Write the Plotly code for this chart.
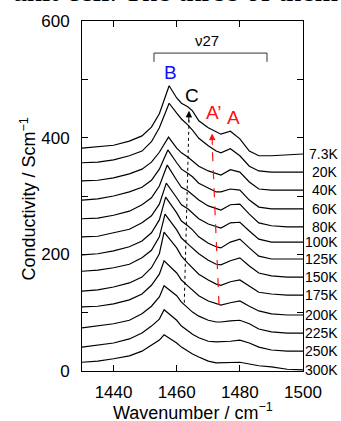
import plotly.graph_objects as go

temps = ["7.3K", "20K", "40K", "60K", "80K", "100K", "125K", "150K", "175K", "200K", "225K", "250K", "300K"]

# wavenumber grid (peak position inserted per curve)
wn_before = [1430, 1435, 1440, 1445, 1449, 1452, 1454.5]
wn_after = [1460, 1461.5, 1463.5, 1465, 1467, 1470, 1472.5, 1474, 1477, 1480, 1483, 1486, 1490, 1495, 1500]
peak_wn = [1457.6, 1457.6, 1457.4, 1457.2, 1457.0, 1456.7, 1456.5, 1456.3, 1456.0, 1456.0, 1456.0, 1456.0, 1456.0]

s_7K = [382, 384, 387, 394, 403, 418, 441, 489, 468, 459, 453, 446, 429, 417, 410, 406, 411, 398, 377, 369, 369, 370, 372]
s_20K = [357, 358, 362, 369, 377, 393, 417, 459, 442, 432, 422, 413, 399, 386, 377, 374, 381, 369, 351, 343, 341, 341, 341]
s_40K = [326, 327, 331, 338, 346, 358, 375, 401, 382, 374, 367, 360, 351, 343, 338, 336, 345, 341, 324, 312, 310, 310, 310]
s_60K = [293, 295, 300, 307, 315, 327, 346, 379, 357, 346, 339, 333, 322, 314, 307, 307, 312, 310, 293, 281, 278, 278, 278]
s_80K = [261, 262, 267, 274, 285, 297, 317, 353, 327, 315, 309, 302, 293, 283, 278, 276, 285, 286, 269, 254, 249, 247, 247]
s_100K = [230, 231, 237, 243, 254, 266, 286, 322, 297, 285, 278, 271, 261, 252, 247, 245, 254, 255, 240, 226, 221, 221, 221]
s_125K = [199, 201, 206, 213, 223, 237, 259, 298, 271, 257, 249, 242, 230, 219, 213, 211, 221, 226, 211, 197, 192, 192, 192]
s_150K = [171, 173, 177, 183, 194, 207, 230, 269, 242, 228, 218, 211, 201, 190, 183, 182, 189, 194, 180, 168, 163, 161, 161]
s_175K = [137, 139, 144, 151, 161, 177, 201, 238, 211, 197, 185, 177, 166, 156, 149, 147, 153, 156, 146, 135, 132, 130, 130]
s_200K = [110, 111, 115, 122, 132, 147, 166, 189, 168, 156, 146, 139, 129, 120, 115, 113, 117, 120, 111, 103, 98, 96, 96]
s_225K = [74, 77, 81, 87, 98, 111, 127, 146, 129, 118, 108, 101, 94, 87, 84, 84, 86, 87, 81, 72, 67, 65, 65]
s_250K = [41, 45, 48, 55, 65, 77, 89, 105, 87, 77, 69, 63, 57, 51, 50, 50, 51, 53, 48, 41, 36, 34, 34]
s_300K = [15, 17, 21, 26, 34, 45, 53, 62, 48, 41, 34, 29, 24, 17, 14, 14, 15, 15, 12, 9, 7, 3, 2]

series = [s_7K, s_20K, s_40K, s_60K, s_80K, s_100K, s_125K, s_150K, s_175K, s_200K, s_225K, s_250K, s_300K]

x_ticks = [1440, 1460, 1480, 1500]
y_ticks = [0, 100, 200, 300, 400, 500, 600]
y_ticktext = ["0", "", "200", "", "400", "", "600"]

FONT = "Liberation Sans, Arial, sans-serif"

fig = go.Figure()
for name, ys, pk in zip(temps, series, peak_wn):
    xs = wn_before + [pk] + wn_after
    fig.add_trace(go.Scatter(x=xs, y=ys, mode="lines", name=name,
                             line=dict(color="black", width=1.2), showlegend=False,
                             hoverinfo="skip"))

annotations = []
# temperature labels at right, aligned to each curve's end value
for name, ys in zip(temps, series):
    annotations.append(dict(x=1, xref="paper", y=ys[-1], yref="y", text=name,
                            xanchor="right", yanchor="middle", xshift=37, showarrow=False,
                            font=dict(family=FONT, size=14, color="black")))

annotations += [
    dict(x=1457.9, y=512, text="B", showarrow=False, font=dict(family=FONT, size=19, color="#1010ff")),
    dict(x=1464.9, y=472, text="C", showarrow=False, font=dict(family=FONT, size=19, color="black")),
    dict(x=1471.8, y=444, text="A’", showarrow=False, font=dict(family=FONT, size=19, color="#ff1010")),
    dict(x=1477.9, y=434, text="A", showarrow=False, font=dict(family=FONT, size=19, color="#ff1010")),
    dict(x=1469.6, y=567, text="ν27", showarrow=False, font=dict(family=FONT, size=15, color="black")),
    # arrow heads
    dict(x=1463.9, y=446, ax=1463.8, ay=425, xref="x", yref="y", axref="x", ayref="y",
         showarrow=True, arrowhead=2, arrowsize=1.3, arrowwidth=1, arrowcolor="black", text=""),
    dict(x=1471.2, y=407, ax=1471.3, ay=385, xref="x", yref="y", axref="x", ayref="y",
         showarrow=True, arrowhead=2, arrowsize=1.3, arrowwidth=1, arrowcolor="#ff1010", text=""),
    # axis titles
    dict(x=0.5, y=0, xref="paper", yref="paper", yanchor="middle", xanchor="center", yshift=-40,
         text="Wavenumber / cm<sup>−1</sup>", showarrow=False, font=dict(family=FONT, size=18)),
    dict(x=-0.244, y=0.49, xref="paper", yref="paper", yanchor="middle", xanchor="center",
         textangle=-90, text="Conductivity / Scm<sup>−1</sup>", showarrow=False,
         font=dict(family=FONT, size=18)),
    # cut-off caption text at the top of the page
    dict(x=0.421, y=1, xref="paper", yref="paper", yshift=12, yanchor="bottom", xanchor="center",
         text="unit cell. The three of them", showarrow=False,
         font=dict(family="Liberation Serif, Times New Roman, serif", size=30, color="black")),
]

shapes = [
    dict(type="path", path="M 1452.8 530 L 1452.8 545 L 1488.6 545 L 1488.6 530",
         xref="x", yref="y", line=dict(color="#333333", width=1)),
    dict(type="line", x0=1462.4, y0=117, x1=1463.9, y1=430, xref="x", yref="y",
         line=dict(color="black", width=1, dash="dot")),
    dict(type="line", x0=1473.4, y0=113, x1=1471.2, y1=392, xref="x", yref="y",
         line=dict(color="#ff1010", width=1.2, dash="dash")),
]

fig.update_layout(
    width=341, height=421,
    margin=dict(l=82, r=38, t=21, b=50, autoexpand=False),
    paper_bgcolor="white", plot_bgcolor="white",
    font=dict(family=FONT, color="black"),
    annotations=annotations, shapes=shapes,
    xaxis=dict(range=[1430, 1500], tickvals=x_ticks, ticks="inside", ticklen=6, tickwidth=1,
               tickcolor="black", showline=True, linecolor="black", linewidth=1, mirror="ticks",
               showgrid=False, zeroline=False, tickfont=dict(size=17), ticklabelstandoff=6,
               automargin=False),
    yaxis=dict(range=[0, 600], tickvals=y_ticks, ticktext=y_ticktext, ticks="inside", ticklen=6,
               tickwidth=1, tickcolor="black", showline=True, linecolor="black", linewidth=1,
               mirror="ticks", showgrid=False, zeroline=False, tickfont=dict(size=17),
               ticklabelstandoff=8, automargin=False),
)

fig.write_html("out.html", config={"displayModeBar": False},
               post_script="document.body.style.margin='0';document.body.style.overflow='hidden';")
